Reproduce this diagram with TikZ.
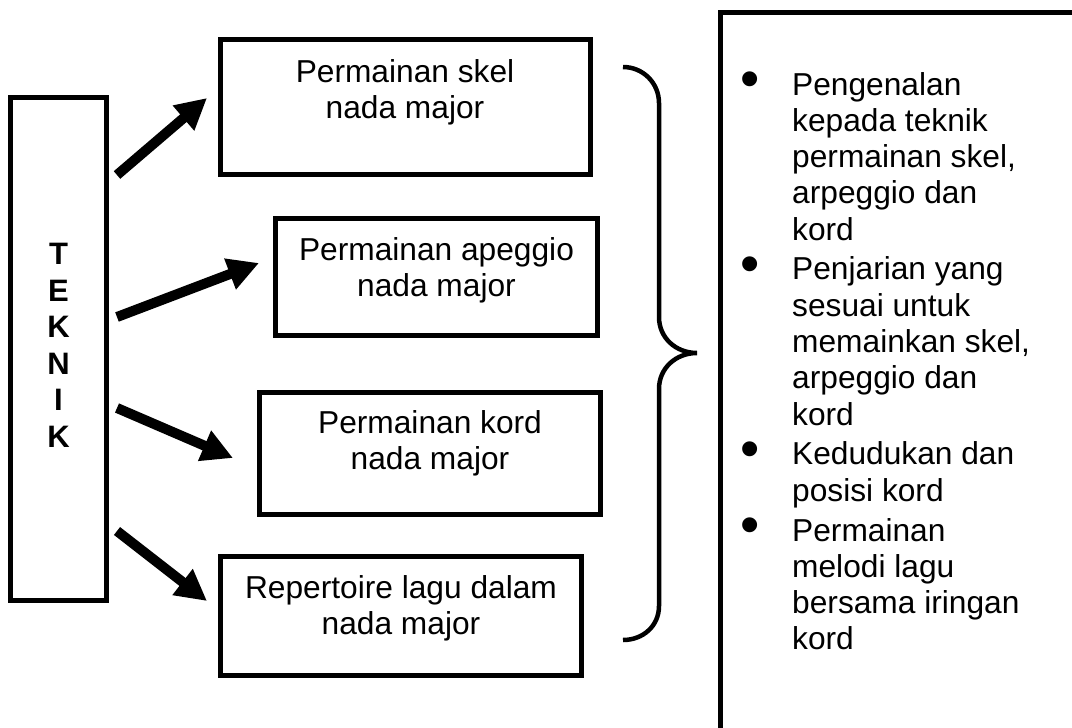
\documentclass[tikz,border=0pt]{standalone}
\usepackage{fontspec}
\setmainfont{Liberation Sans}
\usetikzlibrary{arrows.meta}
\begin{document}
\begin{tikzpicture}[x=1pt,y=-1pt,
  boxst/.style={draw=black, line width=5pt, rectangle, inner sep=0pt},
  txt/.style={anchor=base, inner sep=0pt, font=\fontsize{31.7}{36.3}\selectfont},
  bul/.style={inner sep=0pt, font=\fontsize{55}{55}\selectfont},
  arr/.style={line width=10pt, -{Triangle[length=31pt,width=31pt]}},
  bracest/.style={line width=4.5pt, line cap=butt},
  frame/.style={line width=5pt}]
\useasboundingbox (0,0) rectangle (1072,728);

% TEKNIK box
\node[boxst, minimum width=96, minimum height=503] (teknik) at (58.5,349) {};
\node[anchor=base, inner sep=0pt, font=\bfseries\fontsize{31}{36.5}\selectfont] (teknikT) at (58.5,264.5)
  {\begin{tabular}[t]{@{}c@{}}T\\E\\K\\N\\I\\K\end{tabular}};

% boxes
\node[boxst, minimum width=369.5, minimum height=135] (b1) at (405.25,107) {};
\node[txt] (t1) at (405,82) {\begin{tabular}[t]{@{}c@{}}Permainan skel\\nada major\end{tabular}};

\node[boxst, minimum width=321.5, minimum height=117] (b2) at (436.25,277) {};
\node[txt] (t2) at (436.5,260) {\begin{tabular}[t]{@{}c@{}}Permainan apeggio\\nada major\end{tabular}};

\node[boxst, minimum width=340.5, minimum height=122] (b3) at (429.75,453.5) {};
\node[txt] (t3) at (430,433) {\begin{tabular}[t]{@{}c@{}}Permainan kord\\nada major\end{tabular}};

\node[boxst, minimum width=360.5, minimum height=119] (b4) at (400.75,616) {};
\node[txt] (t4) at (401,598) {\begin{tabular}[t]{@{}c@{}}Repertoire lagu dalam\\nada major\end{tabular}};

% arrows
\coordinate (a1s) at (117,175); \coordinate (a1e) at (207,98);
\coordinate (a2s) at (117,317); \coordinate (a2e) at (259,263);
\coordinate (a3s) at (117,408); \coordinate (a3e) at (233,458);
\coordinate (a4s) at (117,531); \coordinate (a4e) at (207,601);
\draw[arr] (a1s) -- (a1e);
\draw[arr] (a2s) -- (a2e);
\draw[arr] (a3s) -- (a3e);
\draw[arr] (a4s) -- (a4e);

% brace
\draw[bracest] (623,67) .. controls (643,67) and (659,83) .. (659,103)
  -- (659,317) .. controls (659,338) and (676,353) .. (697,353)
  .. controls (676,353) and (659,368) .. (659,389)
  -- (659,606) .. controls (659,626) and (643,640) .. (623,640);

% right frame (cut off at right and bottom)
\draw[frame] (1080,12.5) -| (720.5,740);

% list
\node[bul] (bul1) at (750,84.5) {•};
\node[bul] (bul2) at (750,269.2) {•};
\node[bul] (bul3) at (750,454.5) {•};
\node[bul] (bul4) at (750,530.6) {•};
\node[anchor=base west, inner sep=0pt, font=\fontsize{31.7}{36.3}\selectfont] (list) at (792,95)
 {\begin{tabular}[t]{@{}l@{}}
 Pengenalan\\
 kepada teknik\\
 permainan skel,\\
 arpeggio dan\\
 kord\\[3.5pt]
 Penjarian yang\\
 sesuai untuk\\
 memainkan skel,\\
 arpeggio dan\\
 kord\\[3.5pt]
 Kedudukan dan\\
 posisi kord\\[3.5pt]
 Permainan\\
 melodi lagu\\
 bersama iringan\\
 kord
 \end{tabular}};
\end{tikzpicture}
\end{document}
